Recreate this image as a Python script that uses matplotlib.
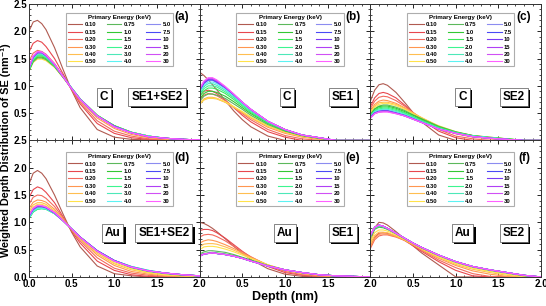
import matplotlib
matplotlib.use("Agg")
import matplotlib.pyplot as plt
import matplotlib.patheffects as pe
import numpy as np

plt.rcParams['font.family'] = ['Liberation Sans', 'DejaVu Sans']
plt.rcParams['font.weight'] = 'bold'

# depth grid (nm) shared by every curve
depth = [0.0, 0.05, 0.1, 0.15, 0.2, 0.3, 0.4, 0.5, 0.6, 0.8, 1.0, 1.2, 1.4, 1.6, 1.8, 2.0]

energies = ['0.10', '0.15', '0.20', '0.30', '0.40', '0.50',
            '0.75', '1.0', '1.5', '2.0', '3.0', '4.0',
            '5.0', '7.5', '10', '15', '20', '30']
colors = ['#b05a50', '#e8474e', '#f26a5e', '#ff9650', '#ffbe50', '#ffe24a',
          '#5cb85c', '#33c733', '#3de85a', '#3cf590', '#4de8b8', '#5cf2f2',
          '#8c8cf0', '#4a4af5', '#7a3af5', '#b040f5', '#d050f5', '#ff60ff']

# (a) C, SE1+SE2
c_total = [
    [2.00, 2.17, 2.20, 2.14, 2.03, 1.70, 1.30, 0.92, 0.60, 0.20, 0.06, 0.02, 0.01, 0.00, 0.00, 0.00],
    [1.62, 1.78, 1.83, 1.80, 1.72, 1.50, 1.22, 0.93, 0.67, 0.31, 0.13, 0.05, 0.02, 0.01, 0.00, 0.00],
    [1.45, 1.60, 1.65, 1.63, 1.58, 1.41, 1.18, 0.93, 0.70, 0.36, 0.17, 0.08, 0.03, 0.01, 0.00, 0.00],
    [1.36, 1.52, 1.58, 1.57, 1.53, 1.38, 1.17, 0.94, 0.73, 0.41, 0.22, 0.11, 0.05, 0.02, 0.01, 0.00],
    [1.30, 1.46, 1.52, 1.52, 1.48, 1.35, 1.16, 0.95, 0.75, 0.44, 0.25, 0.14, 0.07, 0.03, 0.02, 0.01],
    [1.27, 1.43, 1.49, 1.49, 1.46, 1.34, 1.15, 0.95, 0.76, 0.46, 0.27, 0.15, 0.08, 0.04, 0.02, 0.01],
    [1.27, 1.44, 1.51, 1.51, 1.48, 1.35, 1.16, 0.96, 0.76, 0.46, 0.27, 0.15, 0.08, 0.04, 0.02, 0.01],
    [1.28, 1.46, 1.53, 1.53, 1.50, 1.36, 1.16, 0.96, 0.76, 0.46, 0.27, 0.15, 0.08, 0.04, 0.02, 0.01],
    [1.29, 1.47, 1.55, 1.55, 1.51, 1.37, 1.17, 0.96, 0.76, 0.46, 0.27, 0.15, 0.08, 0.04, 0.02, 0.01],
    [1.30, 1.49, 1.56, 1.56, 1.52, 1.37, 1.17, 0.96, 0.76, 0.46, 0.26, 0.15, 0.08, 0.04, 0.02, 0.01],
    [1.31, 1.50, 1.58, 1.58, 1.53, 1.38, 1.17, 0.96, 0.76, 0.45, 0.26, 0.15, 0.08, 0.04, 0.02, 0.01],
    [1.31, 1.51, 1.59, 1.59, 1.54, 1.38, 1.17, 0.96, 0.75, 0.45, 0.26, 0.14, 0.08, 0.04, 0.02, 0.01],
    [1.32, 1.52, 1.60, 1.60, 1.55, 1.39, 1.17, 0.95, 0.75, 0.45, 0.26, 0.14, 0.07, 0.04, 0.02, 0.01],
    [1.32, 1.53, 1.61, 1.61, 1.55, 1.39, 1.17, 0.95, 0.75, 0.45, 0.26, 0.14, 0.07, 0.04, 0.02, 0.01],
    [1.33, 1.53, 1.61, 1.61, 1.56, 1.39, 1.17, 0.95, 0.75, 0.45, 0.26, 0.14, 0.07, 0.04, 0.02, 0.01],
    [1.33, 1.54, 1.62, 1.62, 1.56, 1.39, 1.17, 0.95, 0.75, 0.45, 0.25, 0.14, 0.07, 0.04, 0.02, 0.01],
    [1.33, 1.54, 1.62, 1.62, 1.56, 1.39, 1.17, 0.95, 0.75, 0.45, 0.25, 0.14, 0.07, 0.04, 0.02, 0.01],
    [1.34, 1.55, 1.63, 1.62, 1.57, 1.40, 1.17, 0.95, 0.75, 0.45, 0.25, 0.14, 0.07, 0.04, 0.02, 0.01],
]

# (b) C, SE1
c_se1 = [
    [1.25, 1.19, 1.11, 1.02, 0.93, 0.73, 0.54, 0.38, 0.25, 0.08, 0.00, 0.00, 0.00, 0.00, 0.00, 0.00],
    [0.82, 0.90, 0.92, 0.90, 0.86, 0.74, 0.60, 0.46, 0.34, 0.16, 0.06, 0.00, 0.00, 0.00, 0.00, 0.00],
    [0.75, 0.83, 0.86, 0.85, 0.82, 0.73, 0.61, 0.49, 0.38, 0.20, 0.09, 0.03, 0.00, 0.00, 0.00, 0.00],
    [0.68, 0.76, 0.79, 0.79, 0.77, 0.70, 0.61, 0.51, 0.41, 0.24, 0.13, 0.06, 0.02, 0.00, 0.00, 0.00],
    [0.66, 0.74, 0.77, 0.77, 0.76, 0.70, 0.61, 0.52, 0.42, 0.26, 0.15, 0.07, 0.03, 0.00, 0.00, 0.00],
    [0.67, 0.75, 0.78, 0.78, 0.77, 0.71, 0.62, 0.53, 0.43, 0.27, 0.16, 0.08, 0.04, 0.00, 0.00, 0.00],
    [0.72, 0.81, 0.85, 0.85, 0.83, 0.77, 0.67, 0.57, 0.46, 0.29, 0.17, 0.09, 0.04, 0.00, 0.00, 0.00],
    [0.76, 0.86, 0.90, 0.90, 0.88, 0.81, 0.71, 0.60, 0.49, 0.31, 0.18, 0.09, 0.04, 0.00, 0.00, 0.00],
    [0.80, 0.91, 0.96, 0.96, 0.94, 0.86, 0.75, 0.63, 0.51, 0.32, 0.19, 0.10, 0.05, 0.00, 0.00, 0.00],
    [0.84, 0.95, 1.00, 1.00, 0.98, 0.89, 0.78, 0.65, 0.53, 0.33, 0.19, 0.10, 0.05, 0.00, 0.00, 0.00],
    [0.87, 0.99, 1.04, 1.04, 1.01, 0.92, 0.80, 0.67, 0.55, 0.34, 0.20, 0.10, 0.05, 0.00, 0.00, 0.00],
    [0.89, 1.01, 1.07, 1.07, 1.04, 0.94, 0.82, 0.68, 0.56, 0.34, 0.20, 0.10, 0.05, 0.00, 0.00, 0.00],
    [0.91, 1.04, 1.10, 1.10, 1.06, 0.96, 0.83, 0.69, 0.56, 0.35, 0.20, 0.10, 0.05, 0.00, 0.00, 0.00],
    [0.92, 1.05, 1.11, 1.11, 1.07, 0.97, 0.84, 0.70, 0.57, 0.35, 0.20, 0.10, 0.05, 0.00, 0.00, 0.00],
    [0.93, 1.06, 1.12, 1.12, 1.08, 0.97, 0.84, 0.70, 0.57, 0.35, 0.20, 0.10, 0.05, 0.00, 0.00, 0.00],
    [0.93, 1.07, 1.13, 1.13, 1.09, 0.98, 0.84, 0.70, 0.57, 0.35, 0.20, 0.10, 0.05, 0.00, 0.00, 0.00],
    [0.94, 1.08, 1.14, 1.14, 1.10, 0.98, 0.85, 0.70, 0.57, 0.35, 0.20, 0.10, 0.05, 0.00, 0.00, 0.00],
    [0.95, 1.09, 1.15, 1.15, 1.11, 0.99, 0.85, 0.70, 0.57, 0.35, 0.20, 0.10, 0.05, 0.00, 0.00, 0.00],
]

# (c) C, SE2
c_se2 = [
    [0.72, 0.92, 1.02, 1.04, 1.01, 0.88, 0.70, 0.51, 0.34, 0.10, 0.00, 0.00, 0.00, 0.00, 0.00, 0.00],
    [0.62, 0.78, 0.86, 0.88, 0.86, 0.78, 0.65, 0.51, 0.38, 0.17, 0.05, 0.00, 0.00, 0.00, 0.00, 0.00],
    [0.58, 0.72, 0.79, 0.81, 0.80, 0.73, 0.63, 0.51, 0.40, 0.20, 0.08, 0.03, 0.00, 0.00, 0.00, 0.00],
    [0.54, 0.66, 0.72, 0.74, 0.73, 0.68, 0.60, 0.51, 0.41, 0.24, 0.12, 0.06, 0.03, 0.00, 0.00, 0.00],
    [0.52, 0.63, 0.69, 0.70, 0.70, 0.66, 0.59, 0.50, 0.42, 0.26, 0.15, 0.08, 0.05, 0.02, 0.00, 0.00],
    [0.50, 0.61, 0.66, 0.68, 0.68, 0.64, 0.57, 0.49, 0.41, 0.27, 0.16, 0.09, 0.06, 0.03, 0.00, 0.00],
    [0.48, 0.58, 0.63, 0.65, 0.65, 0.61, 0.55, 0.47, 0.40, 0.26, 0.16, 0.09, 0.06, 0.03, 0.00, 0.00],
    [0.47, 0.57, 0.62, 0.63, 0.63, 0.59, 0.53, 0.46, 0.39, 0.25, 0.15, 0.09, 0.05, 0.03, 0.00, 0.00],
    [0.46, 0.55, 0.60, 0.61, 0.61, 0.57, 0.51, 0.44, 0.37, 0.24, 0.15, 0.08, 0.05, 0.03, 0.00, 0.00],
    [0.45, 0.54, 0.58, 0.59, 0.59, 0.55, 0.50, 0.43, 0.36, 0.23, 0.14, 0.08, 0.05, 0.02, 0.00, 0.00],
    [0.44, 0.53, 0.56, 0.57, 0.57, 0.53, 0.48, 0.42, 0.35, 0.22, 0.14, 0.08, 0.05, 0.02, 0.00, 0.00],
    [0.43, 0.52, 0.55, 0.56, 0.56, 0.52, 0.47, 0.41, 0.34, 0.22, 0.13, 0.08, 0.05, 0.02, 0.00, 0.00],
    [0.43, 0.51, 0.54, 0.55, 0.55, 0.51, 0.46, 0.40, 0.34, 0.21, 0.13, 0.07, 0.04, 0.02, 0.00, 0.00],
    [0.42, 0.50, 0.53, 0.54, 0.54, 0.50, 0.46, 0.40, 0.33, 0.21, 0.13, 0.07, 0.04, 0.02, 0.00, 0.00],
    [0.42, 0.50, 0.53, 0.54, 0.54, 0.50, 0.45, 0.39, 0.33, 0.21, 0.13, 0.07, 0.04, 0.02, 0.00, 0.00],
    [0.41, 0.49, 0.52, 0.53, 0.53, 0.50, 0.45, 0.39, 0.33, 0.21, 0.13, 0.07, 0.04, 0.02, 0.00, 0.00],
    [0.41, 0.49, 0.52, 0.53, 0.53, 0.49, 0.45, 0.39, 0.33, 0.21, 0.13, 0.07, 0.04, 0.02, 0.00, 0.00],
    [0.41, 0.49, 0.52, 0.52, 0.52, 0.49, 0.45, 0.39, 0.33, 0.21, 0.13, 0.07, 0.04, 0.02, 0.00, 0.00],
]

# (d) Au, SE1+SE2
au_total = [
    [1.70, 1.90, 1.95, 1.90, 1.80, 1.50, 1.15, 0.82, 0.55, 0.20, 0.06, 0.02, 0.00, 0.00, 0.00, 0.00],
    [1.45, 1.60, 1.65, 1.62, 1.55, 1.36, 1.10, 0.84, 0.62, 0.29, 0.12, 0.04, 0.01, 0.00, 0.00, 0.00],
    [1.33, 1.46, 1.50, 1.49, 1.44, 1.29, 1.08, 0.86, 0.66, 0.35, 0.16, 0.07, 0.03, 0.01, 0.00, 0.00],
    [1.25, 1.37, 1.41, 1.40, 1.37, 1.24, 1.06, 0.87, 0.69, 0.40, 0.21, 0.10, 0.05, 0.02, 0.01, 0.00],
    [1.20, 1.32, 1.36, 1.36, 1.33, 1.21, 1.05, 0.87, 0.70, 0.43, 0.24, 0.13, 0.07, 0.03, 0.02, 0.01],
    [1.16, 1.28, 1.33, 1.33, 1.30, 1.19, 1.04, 0.87, 0.71, 0.45, 0.26, 0.15, 0.08, 0.04, 0.02, 0.01],
    [1.10, 1.22, 1.27, 1.28, 1.26, 1.17, 1.03, 0.87, 0.72, 0.47, 0.29, 0.17, 0.10, 0.06, 0.03, 0.02],
    [1.08, 1.20, 1.25, 1.26, 1.25, 1.16, 1.03, 0.88, 0.73, 0.48, 0.30, 0.18, 0.11, 0.07, 0.04, 0.02],
    [1.07, 1.19, 1.24, 1.25, 1.24, 1.16, 1.03, 0.88, 0.73, 0.48, 0.30, 0.19, 0.11, 0.07, 0.04, 0.02],
    [1.07, 1.19, 1.24, 1.25, 1.24, 1.16, 1.03, 0.88, 0.73, 0.48, 0.30, 0.19, 0.12, 0.07, 0.04, 0.02],
    [1.08, 1.20, 1.25, 1.26, 1.24, 1.16, 1.03, 0.88, 0.73, 0.48, 0.30, 0.19, 0.12, 0.07, 0.04, 0.02],
    [1.09, 1.21, 1.26, 1.26, 1.25, 1.16, 1.03, 0.88, 0.73, 0.48, 0.30, 0.19, 0.12, 0.07, 0.04, 0.02],
    [1.10, 1.23, 1.28, 1.28, 1.26, 1.17, 1.03, 0.88, 0.73, 0.48, 0.30, 0.19, 0.11, 0.07, 0.04, 0.02],
    [1.11, 1.24, 1.29, 1.29, 1.27, 1.17, 1.03, 0.88, 0.73, 0.48, 0.30, 0.18, 0.11, 0.07, 0.04, 0.02],
    [1.12, 1.25, 1.30, 1.30, 1.27, 1.17, 1.03, 0.88, 0.73, 0.48, 0.30, 0.18, 0.11, 0.07, 0.04, 0.02],
    [1.12, 1.25, 1.30, 1.30, 1.28, 1.18, 1.03, 0.88, 0.73, 0.47, 0.29, 0.18, 0.11, 0.07, 0.04, 0.02],
    [1.12, 1.26, 1.31, 1.30, 1.28, 1.18, 1.03, 0.88, 0.73, 0.47, 0.29, 0.18, 0.11, 0.07, 0.04, 0.02],
    [1.13, 1.26, 1.31, 1.31, 1.28, 1.18, 1.03, 0.88, 0.72, 0.47, 0.29, 0.18, 0.11, 0.07, 0.04, 0.02],
]

# (e) Au, SE1
au_se1 = [
    [1.00, 0.98, 0.94, 0.89, 0.83, 0.70, 0.56, 0.43, 0.32, 0.15, 0.05, 0.01, 0.00, 0.00, 0.00, 0.00],
    [0.85, 0.87, 0.87, 0.85, 0.81, 0.71, 0.59, 0.47, 0.36, 0.19, 0.08, 0.03, 0.01, 0.00, 0.00, 0.00],
    [0.73, 0.77, 0.78, 0.77, 0.74, 0.66, 0.56, 0.46, 0.37, 0.21, 0.10, 0.04, 0.01, 0.00, 0.00, 0.00],
    [0.62, 0.66, 0.68, 0.67, 0.65, 0.59, 0.52, 0.44, 0.36, 0.22, 0.12, 0.06, 0.02, 0.01, 0.00, 0.00],
    [0.55, 0.60, 0.61, 0.61, 0.60, 0.55, 0.49, 0.42, 0.35, 0.22, 0.13, 0.07, 0.03, 0.01, 0.00, 0.00],
    [0.50, 0.55, 0.56, 0.56, 0.55, 0.51, 0.46, 0.40, 0.34, 0.22, 0.13, 0.07, 0.04, 0.02, 0.01, 0.00],
    [0.42, 0.46, 0.48, 0.48, 0.47, 0.45, 0.41, 0.36, 0.31, 0.21, 0.13, 0.08, 0.04, 0.02, 0.01, 0.00],
    [0.39, 0.43, 0.44, 0.45, 0.44, 0.42, 0.39, 0.35, 0.30, 0.20, 0.13, 0.08, 0.04, 0.02, 0.01, 0.00],
    [0.38, 0.42, 0.43, 0.44, 0.43, 0.41, 0.38, 0.34, 0.29, 0.20, 0.13, 0.08, 0.04, 0.02, 0.01, 0.00],
    [0.38, 0.42, 0.43, 0.44, 0.43, 0.41, 0.38, 0.34, 0.29, 0.20, 0.13, 0.08, 0.04, 0.02, 0.01, 0.00],
    [0.38, 0.42, 0.43, 0.44, 0.43, 0.41, 0.38, 0.34, 0.29, 0.20, 0.13, 0.08, 0.04, 0.02, 0.01, 0.00],
    [0.38, 0.42, 0.43, 0.44, 0.43, 0.41, 0.38, 0.34, 0.29, 0.20, 0.13, 0.08, 0.04, 0.02, 0.01, 0.00],
    [0.38, 0.42, 0.43, 0.44, 0.43, 0.41, 0.38, 0.34, 0.29, 0.20, 0.13, 0.08, 0.04, 0.02, 0.01, 0.00],
    [0.38, 0.42, 0.43, 0.44, 0.43, 0.41, 0.38, 0.34, 0.29, 0.20, 0.13, 0.08, 0.04, 0.02, 0.01, 0.00],
    [0.38, 0.42, 0.43, 0.44, 0.43, 0.41, 0.38, 0.34, 0.29, 0.20, 0.13, 0.08, 0.04, 0.02, 0.01, 0.00],
    [0.38, 0.42, 0.43, 0.44, 0.43, 0.41, 0.38, 0.34, 0.29, 0.20, 0.13, 0.08, 0.04, 0.02, 0.01, 0.00],
    [0.38, 0.42, 0.43, 0.44, 0.43, 0.41, 0.38, 0.34, 0.29, 0.20, 0.13, 0.08, 0.04, 0.02, 0.01, 0.00],
    [0.38, 0.42, 0.43, 0.44, 0.43, 0.41, 0.38, 0.34, 0.29, 0.20, 0.13, 0.08, 0.04, 0.02, 0.01, 0.00],
]

# (f) Au, SE2
au_se2 = [
    [0.62, 0.90, 1.00, 0.99, 0.95, 0.83, 0.70, 0.57, 0.44, 0.22, 0.00, 0.00, 0.00, 0.00, 0.00, 0.00],
    [0.55, 0.73, 0.80, 0.81, 0.80, 0.75, 0.67, 0.57, 0.47, 0.28, 0.12, 0.02, 0.00, 0.00, 0.00, 0.00],
    [0.52, 0.68, 0.75, 0.77, 0.77, 0.73, 0.67, 0.58, 0.49, 0.31, 0.17, 0.06, 0.01, 0.00, 0.00, 0.00],
    [0.55, 0.71, 0.78, 0.79, 0.78, 0.74, 0.67, 0.59, 0.50, 0.34, 0.21, 0.11, 0.05, 0.01, 0.00, 0.00],
    [0.60, 0.76, 0.82, 0.82, 0.81, 0.75, 0.68, 0.60, 0.51, 0.36, 0.23, 0.14, 0.08, 0.03, 0.00, 0.00],
    [0.65, 0.81, 0.86, 0.86, 0.84, 0.77, 0.69, 0.61, 0.52, 0.37, 0.25, 0.16, 0.10, 0.05, 0.01, 0.00],
    [0.72, 0.87, 0.91, 0.90, 0.87, 0.79, 0.70, 0.62, 0.53, 0.39, 0.27, 0.18, 0.12, 0.07, 0.02, 0.00],
    [0.74, 0.89, 0.93, 0.91, 0.88, 0.80, 0.71, 0.62, 0.54, 0.40, 0.28, 0.19, 0.13, 0.08, 0.03, 0.00],
    [0.75, 0.90, 0.94, 0.92, 0.89, 0.80, 0.71, 0.62, 0.54, 0.40, 0.28, 0.19, 0.13, 0.08, 0.03, 0.00],
    [0.75, 0.90, 0.94, 0.92, 0.89, 0.80, 0.71, 0.62, 0.54, 0.40, 0.28, 0.19, 0.13, 0.08, 0.03, 0.00],
    [0.75, 0.90, 0.94, 0.92, 0.89, 0.80, 0.71, 0.62, 0.54, 0.40, 0.28, 0.19, 0.13, 0.08, 0.03, 0.00],
    [0.75, 0.90, 0.94, 0.92, 0.89, 0.80, 0.71, 0.62, 0.54, 0.40, 0.28, 0.19, 0.13, 0.08, 0.03, 0.00],
    [0.76, 0.91, 0.95, 0.93, 0.89, 0.80, 0.71, 0.62, 0.54, 0.40, 0.28, 0.19, 0.13, 0.08, 0.03, 0.00],
    [0.76, 0.91, 0.95, 0.93, 0.89, 0.80, 0.71, 0.62, 0.54, 0.40, 0.28, 0.19, 0.13, 0.08, 0.03, 0.00],
    [0.76, 0.91, 0.95, 0.93, 0.89, 0.80, 0.71, 0.62, 0.54, 0.40, 0.28, 0.19, 0.13, 0.08, 0.03, 0.00],
    [0.76, 0.91, 0.95, 0.93, 0.89, 0.80, 0.71, 0.62, 0.54, 0.40, 0.28, 0.19, 0.13, 0.08, 0.03, 0.00],
    [0.76, 0.91, 0.95, 0.93, 0.89, 0.80, 0.71, 0.62, 0.54, 0.40, 0.28, 0.19, 0.13, 0.08, 0.03, 0.00],
    [0.76, 0.91, 0.95, 0.93, 0.89, 0.80, 0.71, 0.62, 0.54, 0.40, 0.28, 0.19, 0.13, 0.08, 0.03, 0.00],
]

panels = [
    (c_total, 'C', 'SE1+SE2', '(a)', 0.44, 0.75),
    (c_se1, 'C', 'SE1', '(b)', 0.51, 0.84),
    (c_se2, 'C', 'SE2', '(c)', 0.54, 0.84),
    (au_total, 'Au', 'SE1+SE2', '(d)', 0.49, 0.79),
    (au_se1, 'Au', 'SE1', '(e)', 0.50, 0.84),
    (au_se2, 'Au', 'SE2', '(f)', 0.54, 0.84),
]

fig, axes = plt.subplots(2, 3, figsize=(5.46, 3.06), dpi=100)
fig.subplots_adjust(left=0.053, right=0.991, top=0.987, bottom=0.095, wspace=0, hspace=0)


def boxed(ax, x, y, s):
    t = ax.text(x, y, s, transform=ax.transAxes, ha='center', va='center',
                fontsize=8.5, fontweight='bold',
                bbox=dict(boxstyle='square,pad=0.25', fc='white', ec='#555555', lw=0.5))
    t.get_bbox_patch().set_path_effects([
        pe.withSimplePatchShadow(offset=(1.6, -1.6), shadow_rgbFace='black', alpha=1.0)])


for i, ax in enumerate(axes.flat):
    data, mat, kind, tag, xm, xk = panels[i]
    row, col = divmod(i, 3)
    for vals, e, c in zip(data, energies, colors):
        ax.plot(depth, vals, color=c, lw=0.8, label=e)
    ax.set_xlim(0, 2.0)
    ax.set_ylim(0, 2.5)
    ax.set_xticks([0.0, 0.5, 1.0, 1.5, 2.0])
    ax.set_yticks([0.0, 0.5, 1.0, 1.5, 2.0, 2.5])
    ax.set_xticks(np.arange(0, 2.01, 0.1), minor=True)
    ax.set_yticks(np.arange(0, 2.51, 0.1), minor=True)
    ax.tick_params(which='both', direction='in', top=True, right=True, labelsize=7, pad=1.5)
    ax.tick_params(which='major', length=3, width=0.6)
    ax.tick_params(which='minor', length=1.5, width=0.5)
    for s in ax.spines.values():
        s.set_linewidth(0.7)
        s.set_color('#333333')

    if col == 0:
        if row == 0:
            ax.set_yticklabels(['', '0.5', '1.0', '1.5', '2.0', '2.5'])
        else:
            ax.set_yticklabels(['0.0', '0.5', '1.0', '1.5', '2.0', '2.5'])
    else:
        ax.set_yticklabels([])
    if row == 1:
        if col == 0:
            ax.set_xticklabels(['0.0', '0.5', '1.0', '1.5', '2.0'])
        else:
            ax.set_xticklabels(['', '0.5', '1.0', '1.5', '2.0'])
    else:
        ax.set_xticklabels([])
    for lab in ax.get_xticklabels() + ax.get_yticklabels():
        lab.set_fontweight('bold')

    top_y = 0.935 if row == 0 else 0.915
    leg = ax.legend(ncol=3, fontsize=4.2, title='Primary Energy (keV)',
                    title_fontproperties={'size': 4.5, 'weight': 'bold'},
                    loc='upper left', bbox_to_anchor=(0.215, top_y),
                    frameon=True, fancybox=False, edgecolor='#999999',
                    handlelength=2.5, handletextpad=0.4, columnspacing=1.8,
                    labelspacing=0.4, borderpad=0.35, borderaxespad=0)
    leg.get_frame().set_linewidth(0.8)
    for t in leg.get_texts():
        t.set_fontweight('bold')

    ax.text(0.94, 0.905 if row == 0 else 0.875, tag, transform=ax.transAxes,
            ha='right', va='center', fontsize=8.5, fontweight='bold')
    boxed(ax, xm, 0.32, mat)
    boxed(ax, xk, 0.32, kind)

fig.text(0.0115, 0.51, 'Weighted Depth Distribution of SE (nm\u207b\u00b9)',
         rotation=90, ha='center', va='center', fontsize=7.8, fontweight='bold')
fig.text(0.522, 0.028, 'Depth (nm)', ha='center', va='center', fontsize=9, fontweight='bold')

fig.savefig('out.png', dpi=100)
